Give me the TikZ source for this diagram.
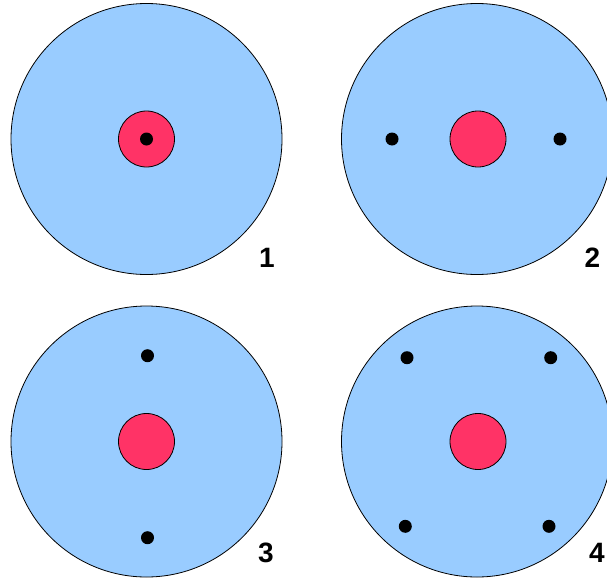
\documentclass[tikz,border=0pt]{standalone}
\usepackage{fontspec}
\setmainfont{Liberation Sans}
\usepackage{xcolor}
\definecolor{shell}{HTML}{99CCFF}
\definecolor{core}{HTML}{FF3366}

\begin{document}
\begin{tikzpicture}[x=1pt,y=-1pt,line width=0.8pt,
  atom/.style={fill=shell,draw=black},
  nucleus/.style={fill=core,draw=black},
  electron/.style={fill=black},
  num/.style={font=\fontsize{28}{30}\selectfont\bfseries,inner sep=0pt,anchor=base}]
\useasboundingbox (0,0) rectangle (607,581);

% 1
\filldraw[atom] (146.5,139) circle (135.5);
\filldraw[nucleus] (146.5,139) circle (28);
\fill[electron] (146.5,139) circle (6.5);
\node[num] (n1) at (267,267) {1};

% 2
\filldraw[atom] (477,139) circle (135.5);
\filldraw[nucleus] (478,139) circle (28);
\foreach \x in {392,560} \fill[electron] (\x,139) circle (6.5);
\node[num] (n2) at (592.5,267) {2};

% 3
\filldraw[atom] (146.5,441.5) circle (135.5);
\filldraw[nucleus] (146.5,441.5) circle (28);
\foreach \y in {355.7,537.7} \fill[electron] (147.5,\y) circle (6.5);
\node[num] (n3) at (266,562) {3};

% 4
\filldraw[atom] (477,441.5) circle (135.5);
\filldraw[nucleus] (478,441.5) circle (28);
\foreach \x/\y in {407/357.7,550.7/357.7,405.3/526.3,549/526.3}
  \fill[electron] (\x,\y) circle (6.5);
\node[num] (n4) at (597,562) {4};
\end{tikzpicture}
\end{document}
